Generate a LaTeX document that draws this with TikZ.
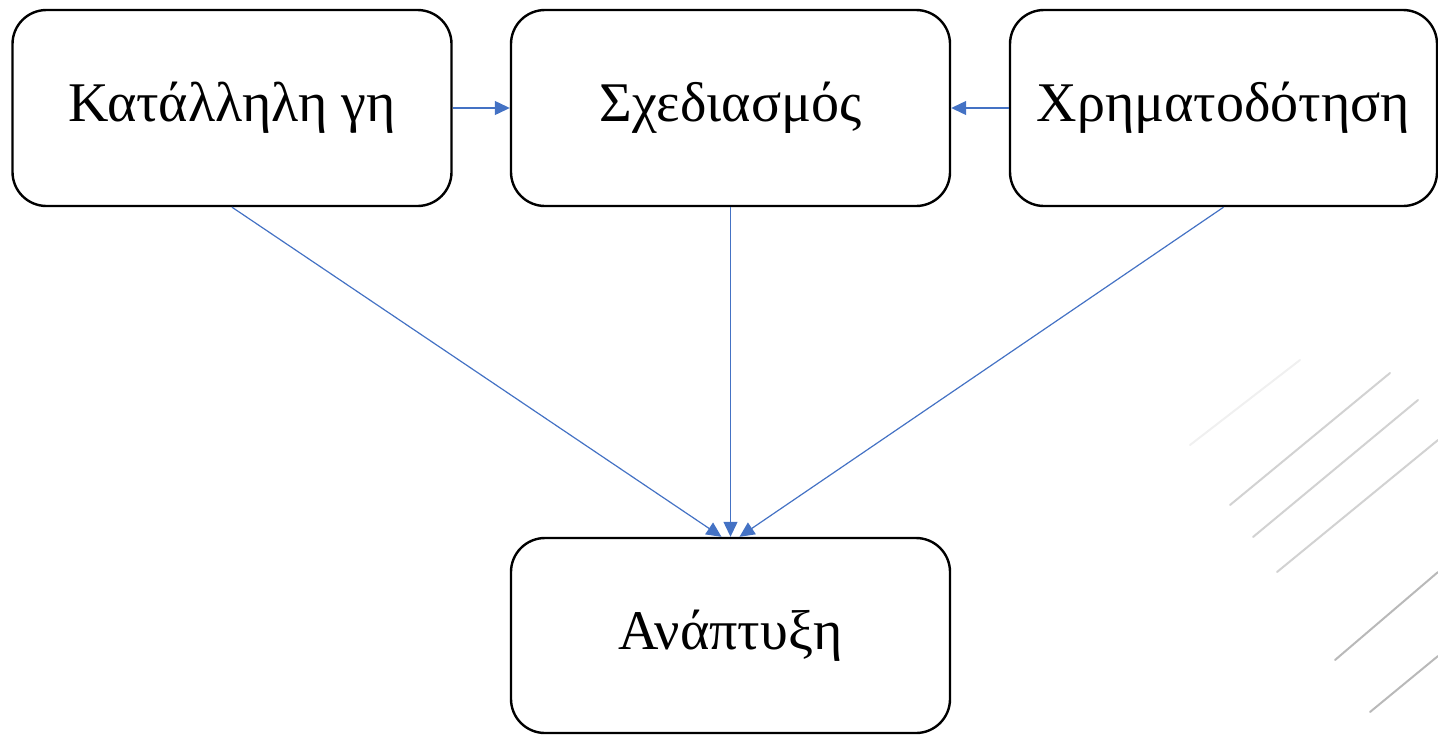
\documentclass[tikz,border=0pt]{standalone}
\usepackage{fontspec}
\setmainfont{Liberation Serif}
\usetikzlibrary{arrows.meta}
\definecolor{arrowblue}{HTML}{4472C4}
\tikzset{
  box/.style={draw=black, line width=1.2pt, rounded corners=17pt, fill=white,
    minimum width=219.5pt, minimum height=98pt, inner sep=0pt, font=\fontsize{28}{32}\selectfont},
  conn/.style={draw=arrowblue, line width=0.6pt, -{Triangle[length=7.5pt,width=7pt]}},
  bgline/.style={draw=gray!35, line width=1pt, line cap=round}
}
\begin{document}
\begin{tikzpicture}[x=0.5pt,y=-0.5pt]
\useasboundingbox (0,0) rectangle (1438,734);
% faint background strokes
\draw[bgline] (1230,505) -- (1390,373);
\draw[bgline] (1253,537) -- (1418,400);
\draw[bgline] (1277,572) -- (1438,440);
\draw[bgline, draw=gray!55] (1335,660) -- (1438,572);
\draw[bgline, draw=gray!55] (1370,712) -- (1438,656);
\draw[bgline, draw=gray!12] (1190,445) -- (1300,360);
% nodes
\node[box] (land) at (232,108) {Κατάλληλη γη};
\node[box] (plan) at (730.5,108) {Σχεδιασμός};
\node[box, minimum width=213.5pt] (fund) at (1223.5,108) {Χρηματοδότηση};
\node[box, minimum height=97.5pt] (dev) at (730.5,635.5) {Ανάπτυξη};
% connectors
\draw[conn] (land.east) -- (plan.west);
\draw[conn] (fund.west) -- (plan.east);
\draw[conn] (land.south) -- ([xshift=-4.5pt]dev.north);
\draw[conn] (plan.south) -- (dev.north);
\draw[conn] (fund.south) -- ([xshift=4.5pt]dev.north);
\end{tikzpicture}
\end{document}
